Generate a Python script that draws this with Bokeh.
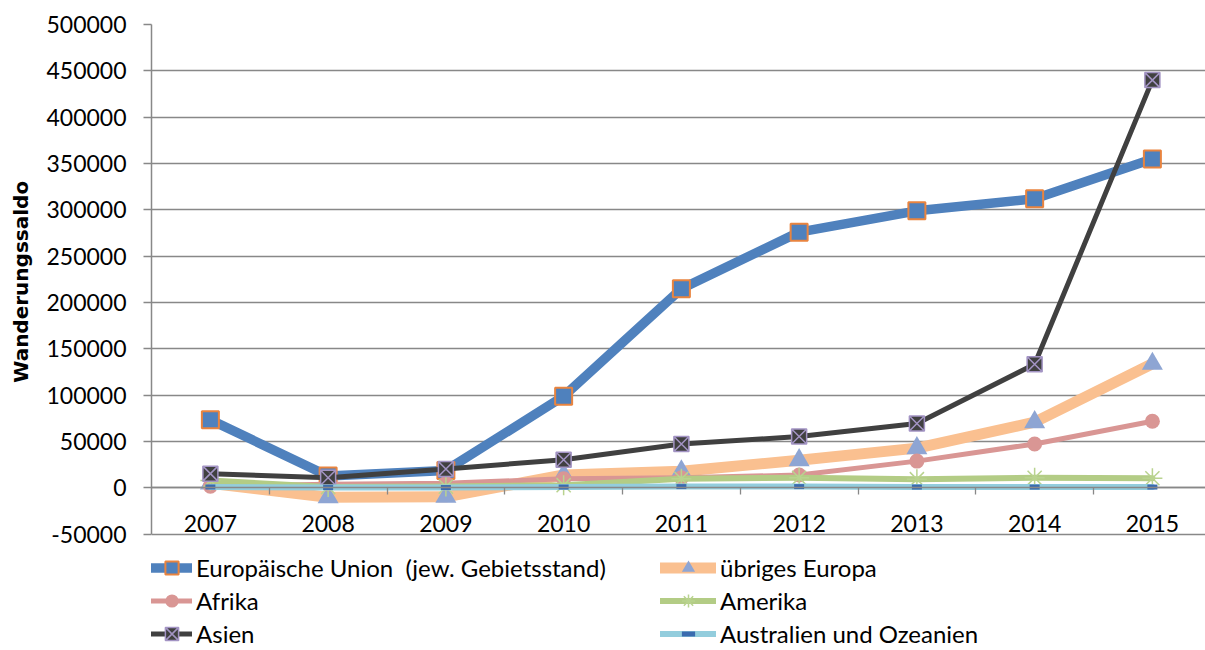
from bokeh.plotting import figure
from bokeh.models import (Range1d, LinearAxis, FixedTicker, NumeralTickFormatter,
                          Legend, LegendItem, ColumnDataSource)
from bokeh.embed import file_html
from bokeh.resources import INLINE

years = ["2007", "2008", "2009", "2010", "2011", "2012", "2013", "2014", "2015"]
eu = [73500, 13000, 19000, 99000, 215000, 276000, 299000, 312000, 355000]
uebriges_europa = [5000, -10000, -9500, 14000, 18000, 30000, 43000, 71000, 134000]
afrika = [2000, 4000, 5000, 10000, 11000, 14000, 29000, 47500, 72000]
amerika = [8000, 1000, 1500, 3000, 10000, 11000, 9500, 11000, 10500]
asien = [15500, 11000, 20500, 30500, 47500, 55500, 69500, 133500, 440000]
australien = [1000, 500, 500, 1000, 1500, 1500, 1000, 1000, 1000]

names = ["Europäische Union  (jew. Gebietsstand)", "übriges Europa", "Afrika",
         "Amerika", "Asien", "Australien und Ozeanien"]
y_title = "Wanderungssaldo"
yticks = [-50000, 0, 50000, 100000, 150000, 200000, 250000, 300000, 350000, 400000, 450000, 500000]

FONT = "Lato"
GRID = "#888888"

idx = list(range(len(years)))

# frame runs to the bottom of the canvas so the legend can sit inside it;
# the value axis itself is bounded to -50000 .. 500000
p = figure(width=1205, height=650, output_backend="svg", toolbar_location=None,
           x_range=Range1d(-0.5, 8.451), y_range=Range1d(-175300, 500000),
           x_axis_location=None, min_border_left=151, min_border_top=24,
           min_border_right=0, min_border_bottom=0)
p.outline_line_color = None
p.xgrid.visible = False
p.ygrid.grid_line_color = GRID
p.ygrid.grid_line_width = 1.3
p.ygrid.ticker = FixedTicker(ticks=yticks)

ya = p.yaxis[0]
ya.bounds = (-50000, 500000)
ya.ticker = FixedTicker(ticks=yticks)
ya.formatter = NumeralTickFormatter(format="0")
ya.axis_line_color = GRID
ya.axis_line_width = 1.5
ya.major_tick_line_color = GRID
ya.major_tick_line_width = 1.3
ya.major_tick_out = 8
ya.major_tick_in = 0
ya.minor_tick_line_color = None
ya.major_label_standoff = 17
ya.major_label_text_font = FONT
ya.major_label_text_font_size = "23px"
ya.major_label_text_color = "black"
# leading no-break spaces shift the centred title up to the middle of the value axis
ya.axis_label = "\u00a0" * 16 + y_title
ya.axis_label_text_font = "DejaVu Sans"
ya.axis_label_text_font_style = "bold"
ya.axis_label_text_font_size = "20px"
ya.axis_label_text_color = "black"
ya.axis_label_standoff = 10

# category boundary ticks on the zero line
xa_ticks = LinearAxis(fixed_location=0,
                      ticker=FixedTicker(ticks=[i + 0.5 for i in idx[:-1]]),
                      axis_line_color=GRID, axis_line_width=1.5,
                      major_tick_line_color=GRID, major_tick_line_width=1.3,
                      major_tick_out=7, major_tick_in=0,
                      minor_tick_line_color=None,
                      major_label_text_color=None, major_label_text_font_size="1px")
p.add_layout(xa_ticks, "below")

xa_labels = LinearAxis(fixed_location=0, ticker=FixedTicker(ticks=idx),
                       axis_line_color=None, major_tick_line_color=None,
                       minor_tick_line_color=None, major_tick_out=0, major_tick_in=0,
                       major_label_standoff=27,
                       major_label_overrides={i: y for i, y in zip(idx, years)},
                       major_label_text_font=FONT, major_label_text_font_size="23px",
                       major_label_text_color="black")
p.add_layout(xa_labels, "below")

series = [
    dict(vals=eu, lc="#4F81BD", lw=9.5, marker="square", size=17, fc="#4F81BD", mlc="#E9843F", mlw=2),
    dict(vals=uebriges_europa, lc="#FAC090", lw=11, marker="triangle", size=21, fc="#8EA5D3", mlc=None, mlw=1),
    dict(vals=afrika, lc="#D99694", lw=5, marker="circle", size=15, fc="#D99694", mlc=None, mlw=1),
    dict(vals=amerika, lc="#B3CC85", lw=6, marker="asterisk", size=20, fc=None, mlc="#B9D38F", mlw=1.5),
    dict(vals=asien, lc="#404040", lw=5, marker="square_x", size=15, fc="#404040", mlc="#A394C4", mlw=1.5),
    dict(vals=australien, lc="#93CDDD", lw=6, marker="dash", size=10, fc=None, mlc="#3A6BAF", mlw=5),
]

items = []
for s, name in zip(series, names):
    src = ColumnDataSource(dict(x=idx, y=s["vals"]))
    r_line = p.line("x", "y", source=src, line_color=s["lc"], line_width=s["lw"],
                    line_join="round", line_cap="round")
    r_mark = p.scatter("x", "y", source=src, marker=s["marker"], size=s["size"],
                       fill_color=s["fc"], line_color=s["mlc"], line_width=s["mlw"])
    items.append(LegendItem(label=name, renderers=[r_line, r_mark]))

def make_legend(its, x, y, gw):
    return Legend(items=its, location=(x, y), orientation="vertical",
                  border_line_color=None, background_fill_color=None,
                  background_fill_alpha=0, padding=0, margin=0, spacing=0,
                  glyph_width=gw, glyph_height=33, label_height=33,
                  label_standoff=4, label_text_font=FONT, label_text_font_size="24px",
                  label_text_color="black")

p.add_layout(make_legend([items[0], items[2], items[4]], 0, 0, 41), "center")
p.add_layout(make_legend([items[1], items[3], items[5]], 509, 0, 56), "center")

open("out.html", "w").write(file_html(p, INLINE))
